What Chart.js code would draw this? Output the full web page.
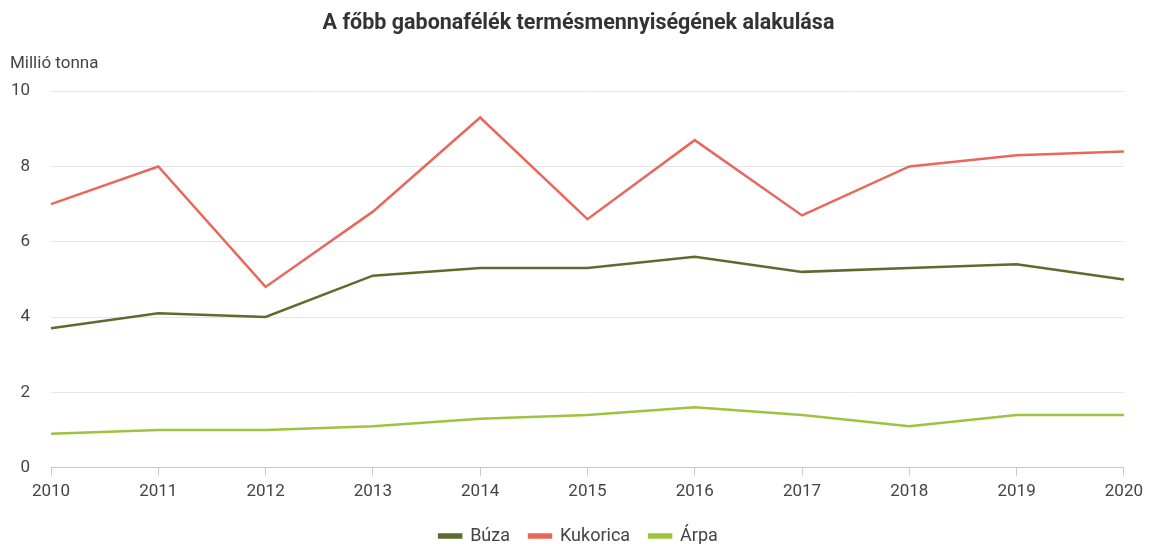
<!DOCTYPE html>
<html>
<head>
<meta charset="utf-8">
<script src="https://cdn.jsdelivr.net/npm/chart.js@4"></script>
<style>
html,body{margin:0;padding:0;background:#fff;}
#wrap{width:1149px;height:544px;position:relative;}
</style>
</head>
<body>
<div id="wrap"><canvas id="c"></canvas></div>
<script>
const years = ['2010','2011','2012','2013','2014','2015','2016','2017','2018','2019','2020'];
const buza = [3.7, 4.1, 4.0, 5.1, 5.3, 5.3, 5.6, 5.2, 5.3, 5.4, 5.0];
const kukorica = [7.0, 8.0, 4.8, 6.8, 9.3, 6.6, 8.7, 6.7, 8.0, 8.3, 8.4];
const arpa = [0.9, 1.0, 1.0, 1.1, 1.3, 1.4, 1.6, 1.4, 1.1, 1.4, 1.4];
const seriesNames = ['Búza', 'Kukorica', 'Árpa'];
const titleText = 'A főbb gabonafélék termésmennyiségének alakulása';
const unitText = 'Millió tonna';

const colors = ['#5b6d2c', '#e8685c', '#9dc33f'];
const font = 'Roboto, "Noto Sans", sans-serif';

function ds(label, data, color) {
  return {
    label, data,
    borderColor: color, backgroundColor: color,
    borderWidth: 2.5, pointRadius: 0, pointHoverRadius: 0,
    tension: 0, fill: false
  };
}

new Chart(document.getElementById('c'), {
  type: 'line',
  data: {
    labels: years,
    datasets: [
      ds(seriesNames[0], buza, colors[0]),
      ds(seriesNames[1], kukorica, colors[1]),
      ds(seriesNames[2], arpa, colors[2])
    ]
  },
  options: {
    responsive: true,
    maintainAspectRatio: false,
    animation: false,
    layout: { padding: { left: 10, right: 2, top: 4, bottom: -11 } },
    plugins: {
      title: {
        display: true, text: titleText,
        color: '#333', font: { family: font, size: 21.5, weight: 'bold' },
        padding: { top: 7, bottom: 17 }
      },
      subtitle: {
        display: true, text: unitText, align: 'start',
        color: '#444', font: { family: font, size: 17 },
        padding: { top: 0, bottom: 17 }
      },
      legend: {
        position: 'bottom',
        labels: {
          color: '#444', font: { family: font, size: 18 },
          boxWidth: 22, boxHeight: 3, padding: 19
        }
      },
      tooltip: { enabled: false }
    },
    scales: {
      x: {
        offset: false,
        grid: { display: true, drawOnChartArea: false, drawTicks: true, tickLength: 8, color: '#c8c8c8' },
        border: { display: true, color: '#c8c8c8' },
        ticks: { color: '#444', font: { family: font, size: 17 }, padding: 6, maxRotation: 0 }
      },
      y: {
        min: 0, max: 10,
        grid: { color: '#e6e6e6', drawTicks: false },
        border: { display: false },
        ticks: { stepSize: 2, color: '#444', font: { family: font, size: 17 }, padding: 21 },
        afterFit(scale) { scale.width = 41; }
      }
    }
  }
});
</script>
</body>
</html>
